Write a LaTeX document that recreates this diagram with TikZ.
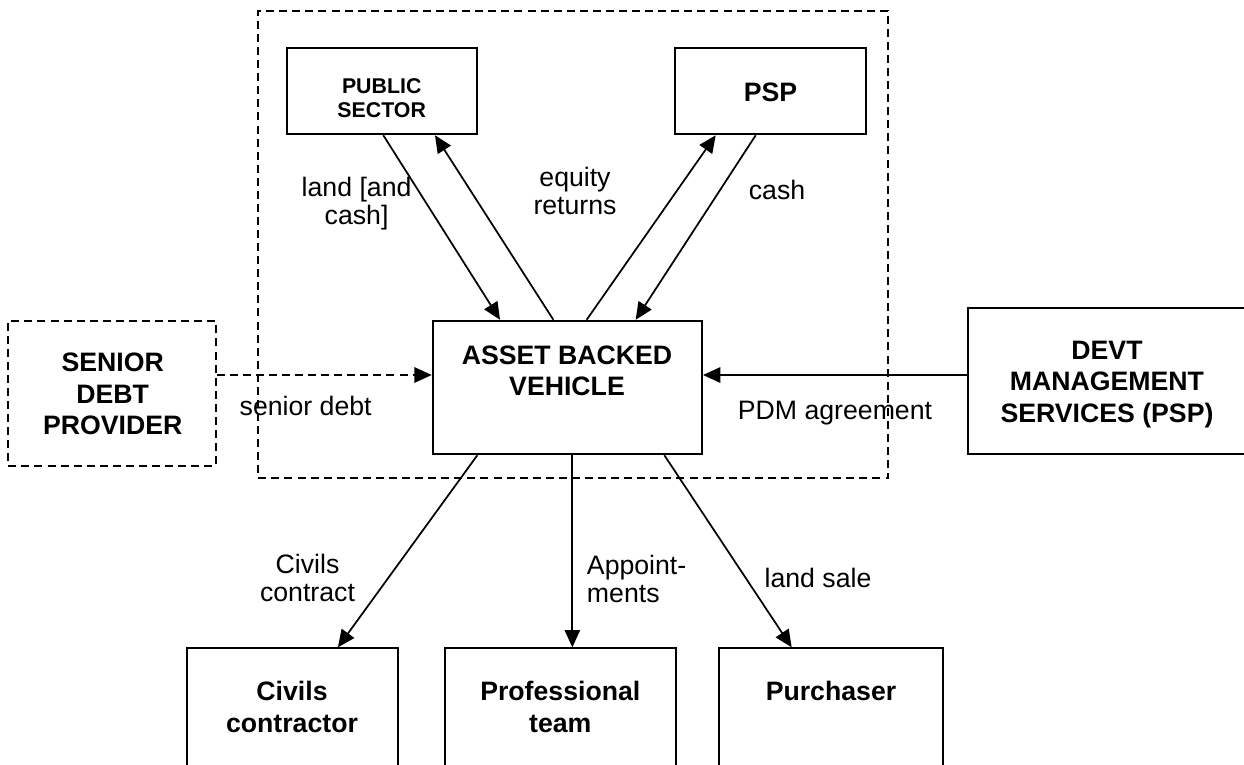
\documentclass[tikz,border=0pt]{standalone}
\usepackage{fontspec}
\setmainfont{Liberation Sans}
\usetikzlibrary{arrows.meta,calc,fit}

\tikzset{
  box/.style={draw, line width=1.4pt, inner sep=0pt},
  dbox/.style={box, line width=1.3pt, dash pattern=on 6pt off 3.8pt},
  heavy/.style={font=\fontsize{20}{23.5}\selectfont\bfseries, align=center, inner sep=0pt},
  small heavy/.style={font=\fontsize{16}{18}\selectfont\bfseries, align=center, inner sep=0pt},
  lbl/.style={font=\fontsize{20}{21}\selectfont, align=center, inner sep=0pt},
  arr/.style={line width=1.3pt, -{Triangle[length=13pt,width=11.5pt]}},
  darr/.style={arr, dash pattern=on 6pt off 3.8pt},
}

\begin{document}
\begin{tikzpicture}[x=0.75pt, y=-0.75pt]
\useasboundingbox (0,0) rectangle (1244,764);
\fill[white] (0,0) rectangle (1244,764);
\clip (0,0) rectangle (1244,764);

% joint venture boundary
\node[dbox, fit={(258.3,10.7) (888.3,478.3)}] (jv) {};

% boxes
\node[box, fit={(286.7,48.3) (476.7,134.3)}] (pub) {};
\node[box, fit={(675,48) (866,134.3)}] (psp) {};
\node[box, fit={(432.7,320.7) (702,454.3)}] (abv) {};
\node[dbox, fit={(8.3,320.7) (215.7,465.7)}] (sdp) {};
\node[box, fit={(968,308) (1250,454.3)}] (devt) {};
\node[box, fit={(187,648.3) (397.7,800)}] (civ) {};
\node[box, fit={(445,648.3) (675.7,800)}] (pro) {};
\node[box, fit={(719,648.3) (943,800)}] (pur) {};

% box texts
\node[small heavy] (pubt) at (381.7,98) {PUBLIC\\SECTOR};
\node[heavy] (pspt) at (770.5,92) {PSP};
\node[heavy] (abvt) at (567,370.5) {ASSET BACKED\\VEHICLE};
\node[heavy] (sdpt) at (112.7,394) {SENIOR\\DEBT\\PROVIDER};
\node[heavy] (devtt) at (1107,384.3) {DEVT\\MANAGEMENT\\SERVICES (PSP)};
\node[heavy] (civt) at (292,707) {Civils\\contractor};
\node[heavy] (prot) at (560.3,707) {Professional\\team};
\node[heavy] (purt) at (831,691) {Purchaser};

% flows between the parties and the vehicle
\draw[arr] ($(pub.south)+(1.6,0)$) -- ($(abv.north)+(-67.3,0)$);
\draw[arr] ($(abv.north)+(-14,0)$) -- ($(pub.south)+(53.3,0)$);
\draw[arr] ($(abv.north)+(19.3,0)$) -- ($(psp.south)+(-54.8,0)$);
\draw[arr] ($(psp.south)+(-14.8,0)$) -- ($(abv.north)+(68.3,0)$);

\coordinate (sd0) at ($(sdp.east)+(0,-18.2)$);
\draw[darr] (sd0) -- (sd0 -| abv.west);
\coordinate (pd0) at ($(devt.west)+(0,-6.15)$);
\draw[arr] (pd0) -- (pd0 -| abv.east);

\draw[arr] ($(abv.south)+(-90,0)$) -- ($(civ.north)+(45.5,0)$);
\draw[arr] ($(abv.south)+(5,0)$) -- ($(pro.north)+(12,0)$);
\draw[arr] ($(abv.south)+(97,0)$) -- ($(pur.north)+(-39.3,0)$);

% flow labels
\node[lbl] (l1) at (356.6,204) {land [and\\cash]};
\node[lbl] (l2) at (575,191) {equity\\returns};
\node[lbl] (l3) at (777,190) {cash};
\node[lbl] (l4) at (305.7,406) {senior debt};
\node[lbl] (l5) at (835,413) {PDM agreement};
\node[lbl] (l6) at (307.5,578) {Civils\\contract};
\node[lbl, align=left, anchor=west] (l7) at (586.7,579) {Appoint-\\ments};
\node[lbl] (l8) at (818,578) {land sale};
\end{tikzpicture}
\end{document}
